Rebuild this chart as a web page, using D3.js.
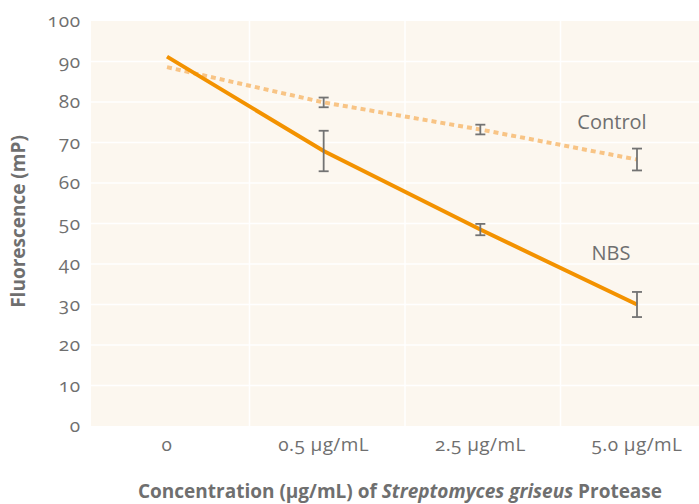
<!DOCTYPE html>
<html>
<head>
<meta charset="utf-8">
<script src="https://cdn.jsdelivr.net/npm/d3@7"></script>
<style>
  html, body { margin: 0; padding: 0; background: #ffffff; }
  svg { display: block; }
  text { font-family: "Open Sans", "Noto Sans", sans-serif; fill: #6f6f6f; font-variant-numeric: oldstyle-nums; }
</style>
</head>
<body>
<script>
const categories = ["0", "0.5 µg/mL", "2.5 µg/mL", "5.0 µg/mL"];
const nbsValues = [91.2, 67.9, 48.5, 30.0];
const nbsErrors = [null, 5.0, 1.4, 3.1];
const controlValues = [88.6, 79.9, 73.2, 65.8];
const controlErrors = [null, 1.2, 1.2, 2.7];
const yTicks = [0, 10, 20, 30, 40, 50, 60, 70, 80, 90, 100];
const seriesNames = ["Control", "NBS"];

const W = 699, H = 504;
const margin = { left: 91, right: 0, top: 21, bottom: 78 };

const svg = d3.select("body").append("svg").attr("width", W).attr("height", H);

const x = d3.scalePoint().domain(categories).range([167, 637]);
const xBand = d3.scaleBand().domain(categories).range([91, 713]);
const y = d3.scaleLinear().domain([0, 100]).range([H - margin.bottom, margin.top]);

// plot background
svg.append("rect")
  .attr("x", margin.left).attr("y", y(100))
  .attr("width", W - margin.left - margin.right)
  .attr("height", y(0) - y(100))
  .attr("fill", "#fcf7ef");

// horizontal gridlines
svg.append("g").selectAll("line").data(yTicks.filter(d => d > 0 && d < 100)).join("line")
  .attr("x1", margin.left).attr("x2", W - margin.right)
  .attr("y1", d => y(d)).attr("y2", d => y(d))
  .attr("stroke", "#ffffff").attr("stroke-width", 1.5);

// vertical gridlines (between categories)
svg.append("g").selectAll("line").data(categories.slice(1)).join("line")
  .attr("x1", d => xBand(d) + 3).attr("x2", d => xBand(d) + 3)
  .attr("y1", y(100)).attr("y2", y(0))
  .attr("stroke", "#ffffff").attr("stroke-width", 1.5);

// y axis labels
svg.append("g").selectAll("text").data(yTicks).join("text")
  .attr("x", 81).attr("y", d => y(d) + 6)
  .attr("text-anchor", "end")
  .attr("font-size", 19)
  .attr("letter-spacing", 0.8)
  .text(d => d);

// x axis labels
svg.append("g").selectAll("text").data(categories).join("text")
  .attr("x", d => x(d)).attr("y", 451)
  .attr("text-anchor", "middle")
  .attr("font-size", 19)
  .attr("letter-spacing", 0.4)
  .text(d => d);

// axis titles
const xt = svg.append("text")
  .attr("x", 400).attr("y", 498)
  .attr("text-anchor", "middle")
  .attr("font-size", 19).attr("font-weight", "bold");
xt.append("tspan").text("Concentration (µg/mL) of ");
xt.append("tspan").attr("font-style", "italic").text("Streptomyces griseus");
xt.append("tspan").text(" Protease");

svg.append("text")
  .attr("transform", `translate(25, ${y(50) - 2}) rotate(-90)`)
  .attr("text-anchor", "middle")
  .attr("font-size", 19).attr("font-weight", "bold")
  .text("Fluorescence (mP)");

const line = d3.line().x((d, i) => x(categories[i])).y(d => y(d));

// control line (dotted)
svg.append("path").datum(controlValues)
  .attr("d", line)
  .attr("fill", "none")
  .attr("stroke", "#f8c485")
  .attr("stroke-width", 4)
  .attr("stroke-dasharray", "5,4");

// NBS line
svg.append("path").datum(nbsValues)
  .attr("d", line)
  .attr("fill", "none")
  .attr("stroke", "#f39200")
  .attr("stroke-width", 4);

// error bars
function errorBars(values, errors) {
  const data = values.map((v, i) => ({ c: categories[i], v, e: errors[i] })).filter(d => d.e != null);
  const g = svg.append("g").attr("stroke", "#737373").attr("stroke-width", 1.8).attr("fill", "none");
  g.selectAll(".v").data(data).join("line")
    .attr("x1", d => x(d.c)).attr("x2", d => x(d.c))
    .attr("y1", d => y(d.v + d.e)).attr("y2", d => y(d.v - d.e));
  g.selectAll(".t").data(data).join("line")
    .attr("x1", d => x(d.c) - 5).attr("x2", d => x(d.c) + 5)
    .attr("y1", d => y(d.v + d.e)).attr("y2", d => y(d.v + d.e));
  g.selectAll(".b").data(data).join("line")
    .attr("x1", d => x(d.c) - 5).attr("x2", d => x(d.c) + 5)
    .attr("y1", d => y(d.v - d.e)).attr("y2", d => y(d.v - d.e));
}
errorBars(controlValues, controlErrors);
errorBars(nbsValues, nbsErrors);

// series labels
svg.append("text").attr("x", 612).attr("y", y(controlValues[3]) - 31)
  .attr("text-anchor", "middle").attr("font-size", 20).text(seriesNames[0]);
svg.append("text").attr("x", 611).attr("y", y(nbsValues[3]) - 45)
  .attr("text-anchor", "middle").attr("font-size", 20).text(seriesNames[1]);
</script>
</body>
</html>
